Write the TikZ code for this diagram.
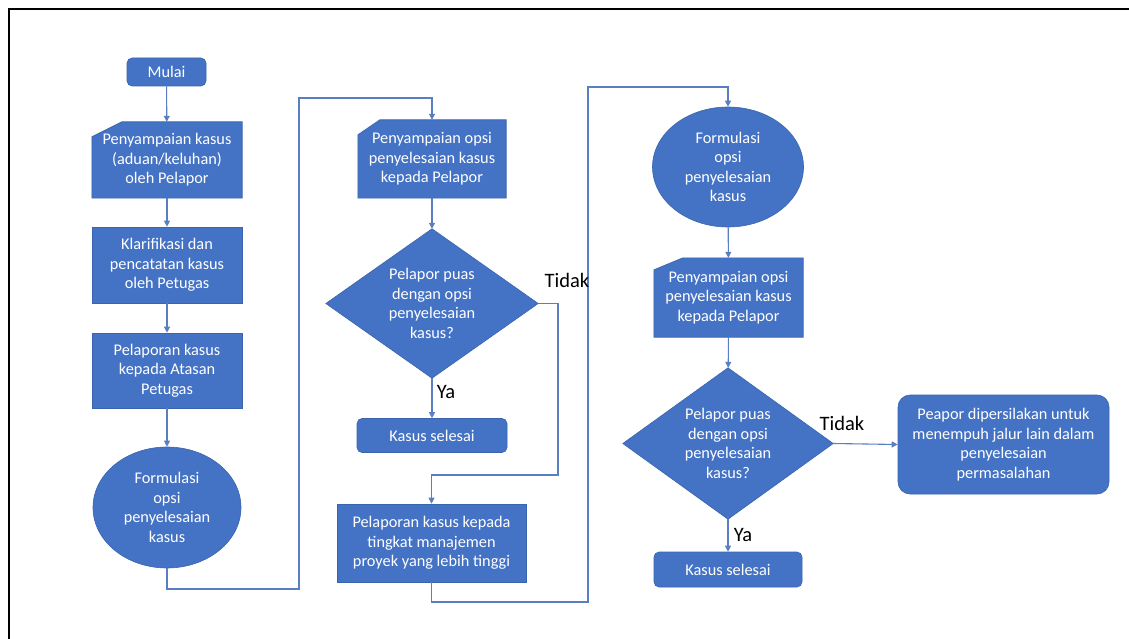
\documentclass[tikz,border=0pt]{standalone}
\usepackage{fontspec}
\setmainfont{Carlito}
\usetikzlibrary{shapes.geometric,arrows.meta,backgrounds}
\definecolor{bfill}{HTML}{4472C4}
\definecolor{bdraw}{HTML}{3A64AE}
\definecolor{connc}{HTML}{5A7EC2}
\begin{document}
\begin{tikzpicture}[x=1pt,y=-1pt,
  txt/.style={text=white, align=center, inner sep=0pt, font=\fontsize{16.3}{19.6}\selectfont},
  box/.style={txt, rectangle, fill=bfill, draw=bdraw, line width=0.6pt},
  rbox/.style={box, rounded corners=5pt},
  minput/.style={txt, rectangle},
  ell/.style={txt, ellipse, fill=bfill, draw=bdraw, line width=0.6pt},
  dec/.style={txt, rectangle},
  shapefill/.style={fill=bfill, draw=bdraw, line width=0.6pt},
  conn/.style={draw=connc, line width=1.1pt, -{Triangle[length=6pt,width=6pt]}},
  lbl/.style={font=\fontsize{20.5}{24}\selectfont, text=black, inner sep=0pt}]
\useasboundingbox (0,0) rectangle (1129,639);
\draw[line width=2.5pt] (9,650) -- (9,9) -- (1140,9);

% column 1
\node[rbox, minimum width=79pt, minimum height=28pt] (mulai) at (166.5,72) {Mulai};
\node[minput, minimum width=150pt, minimum height=76pt] (b1) at (167,160) {Penyampaian kasus\\(aduan/keluhan)\\oleh Pelapor};
\node[box, minimum width=150pt, minimum height=76pt] (b2) at (167,265) {Klarifikasi dan\\pencatatan kasus\\oleh Petugas};
\node[box, minimum width=150pt, minimum height=75pt] (b3) at (167,370.5) {Pelaporan kasus\\kepada Atasan\\Petugas};
\node[ell, minimum width=148pt, minimum height=121pt] (e1) at (167,507.5) {Formulasi\\opsi\\penyelesaian\\kasus};

% column 2
\node[minput, minimum width=148pt, minimum height=78pt] (b4) at (432,159) {Penyampaian opsi\\penyelesaian kasus\\kepada Pelapor};
\node[dec, minimum width=212pt, minimum height=149pt] (d1) at (432,303.5) {Pelapor puas\\dengan opsi\\penyelesaian\\kasus?};
\node[rbox, minimum width=150pt, minimum height=34pt] (k1) at (432,435.5) {Kasus selesai};
\node[box, minimum width=189pt, minimum height=78pt] (b5) at (431.5,543) {Pelaporan kasus kepada\\tingkat manajemen\\proyek yang lebih tinggi};

% column 3
\node[ell, minimum width=151pt, minimum height=120pt] (e2) at (728,167) {Formulasi\\opsi\\penyelesaian\\kasus};
\node[minput, minimum width=149pt, minimum height=79pt] (b6) at (728.5,297.5) {Penyampaian opsi\\penyelesaian kasus\\kepada Pelapor};
\node[dec, minimum width=210pt, minimum height=151pt] (d2) at (728,443.5) {Pelapor puas\\dengan opsi\\penyelesaian\\kasus?};
\node[rbox, minimum width=148pt, minimum height=35pt] (k2) at (728,569.5) {Kasus selesai};
\node[box, rounded corners=12pt, minimum width=211pt, minimum height=99pt] (b7) at (1003.5,444.5) {Peapor dipersilakan untuk\\menempuh jalur lain dalam\\penyelesaian\\permasalahan};

% manual input and decision shapes
\begin{scope}[on background layer]
\filldraw[shapefill] (b1.south west) -- (b1.south east) -- (b1.north east) -- ([xshift=30pt]b1.north west) -- ([yshift=-15pt]b1.north west) -- cycle;
\filldraw[shapefill] (b4.south west) -- (b4.south east) -- (b4.north east) -- ([xshift=22pt]b4.north west) -- ([yshift=-15pt]b4.north west) -- cycle;
\filldraw[shapefill] (b6.south west) -- (b6.south east) -- (b6.north east) -- ([xshift=29pt]b6.north west) -- ([yshift=-12pt]b6.north west) -- cycle;
\filldraw[shapefill] (d1.north) -- (d1.east) -- (d1.south) -- (d1.west) -- cycle;
\filldraw[shapefill] (d2.north) -- (d2.east) -- (d2.south) -- (d2.west) -- cycle;
\end{scope}

% turning points
\coordinate (c1) at (167,589);
\coordinate (c2) at (299,589);
\coordinate (c3) at (299,98);
\coordinate (c4) at (432,98);
\coordinate (c5) at (558,303.5);
\coordinate (c6) at (558,475);
\coordinate (c7) at (431.5,475);
\coordinate (c8) at (431.5,602);
\coordinate (c9) at (588,602);
\coordinate (c10) at (588,87);
\coordinate (c11) at (728,87);

% connectors
\draw[conn] (mulai) -- (b1);
\draw[conn] (b1) -- (b2);
\draw[conn] (b2) -- (b3);
\draw[conn] (b3) -- (e1);
\draw[conn] (e1.south) -- (c1) -- (c2) -- (c3) -- (c4) -- (b4.north);
\draw[conn] (b4) -- (d1);
\draw[conn] (d1.south) -- (k1.north);
\draw[conn] (d1.east) -- (c5) -- (c6) -- (c7) -- (b5.north);
\draw[conn] (b5.south) -- (c8) -- (c9) -- (c10) -- (c11) -- (e2.north);
\draw[conn] (e2) -- (b6);
\draw[conn] (b6) -- (d2);
\draw[conn] (d2.south) -- (k2.north);
\draw[conn] (d2.east) -- (b7.west);

% labels
\node[lbl] (t1) at (567,280) {Tidak};
\node[lbl] (y1) at (446,392) {Ya};
\node[lbl] (t2) at (842,423) {Tidak};
\node[lbl] (y2) at (743,535) {Ya};
\end{tikzpicture}
\end{document}
